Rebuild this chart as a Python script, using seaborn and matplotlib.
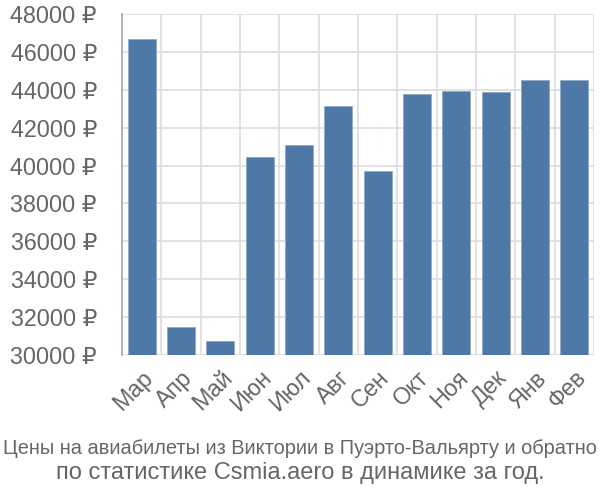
import matplotlib
matplotlib.use("Agg")
import matplotlib.pyplot as plt
import matplotlib.font_manager as fm
import seaborn as sns
import pandas as pd
from matplotlib.ticker import FixedLocator

months = ["Мар", "Апр", "Май", "Июн", "Июл", "Авг", "Сен", "Окт", "Ноя", "Дек", "Янв", "Фев"]
prices = [46660, 31490, 30750, 40450, 41080, 43130, 39720, 43770, 43950, 43860, 44490, 44490]
yticks = [30000, 32000, 34000, 36000, 38000, 40000, 42000, 44000, 46000, 48000]
title_line1 = "Цены на авиабилеты из Виктории в Пуэрто-Вальярту и обратно"
title_line2 = "по статистике Csmia.aero в динамике за год."

sns.set_style("white")
plt.rcParams['font.family'] = ['Liberation Sans', 'DejaVu Sans']

names = {f.name for f in fm.fontManager.ttflist}
has_narrow = "Liberation Sans Narrow" in names

df = pd.DataFrame({"month": months, "price": prices})

fig = plt.figure(figsize=(6, 5), dpi=100)
ax = fig.add_axes([122/600, 1-355/500, 472/600, 341/500])

sns.barplot(data=df, x="month", y="price", color="#4e78a6", width=0.72,
            edgecolor="#8fa9c8", linewidth=0.6, ax=ax, zorder=3, saturation=1)

ax.set_ylim(30000, 48000)
ax.set_xlim(-0.5, len(months) - 0.5)
ax.set_yticks(yticks)
ax.set_yticklabels([f"{v} ₽" for v in yticks])
ax.set_xlabel("")
ax.set_ylabel("")

grid_c = "#dddddd"
fs = 16.8
ax.xaxis.set_minor_locator(FixedLocator([i - 0.5 for i in range(len(months) + 1)]))
ax.grid(axis="y", color=grid_c, linewidth=1.2, zorder=0)
ax.grid(axis="x", which="minor", color=grid_c, linewidth=1.2, zorder=0)
ax.tick_params(axis="y", length=22, color=grid_c, width=1.2, labelsize=fs, labelcolor="#666666", pad=-4)
ax.tick_params(axis="x", which="major", length=0, labelsize=fs, labelcolor="#666666", pad=8)
ax.tick_params(axis="x", which="minor", length=18, color=grid_c, width=1.2)
plt.setp(ax.get_xticklabels(), rotation=45, ha="right", rotation_mode="anchor")

for s in ["top", "right", "bottom"]:
    ax.spines[s].set_visible(False)
ax.spines["left"].set_color("#aaaaaa")
ax.spines["left"].set_linewidth(1.2)
ax.spines["left"].set_zorder(4)

if has_narrow:
    fig.text(0.5, 1 - 448/500, title_line1, ha="center", va="center", fontsize=17,
             color="#666666", family=["Liberation Sans Narrow", "DejaVu Sans"])
else:
    fig.text(0.5, 1 - 448/500, title_line1, ha="center", va="center", fontsize=14.4,
             color="#666666")
fig.text(0.5, 1 - 473/500, title_line2, ha="center", va="center", fontsize=17,
         color="#666666")

fig.savefig("out.png", dpi=100)
